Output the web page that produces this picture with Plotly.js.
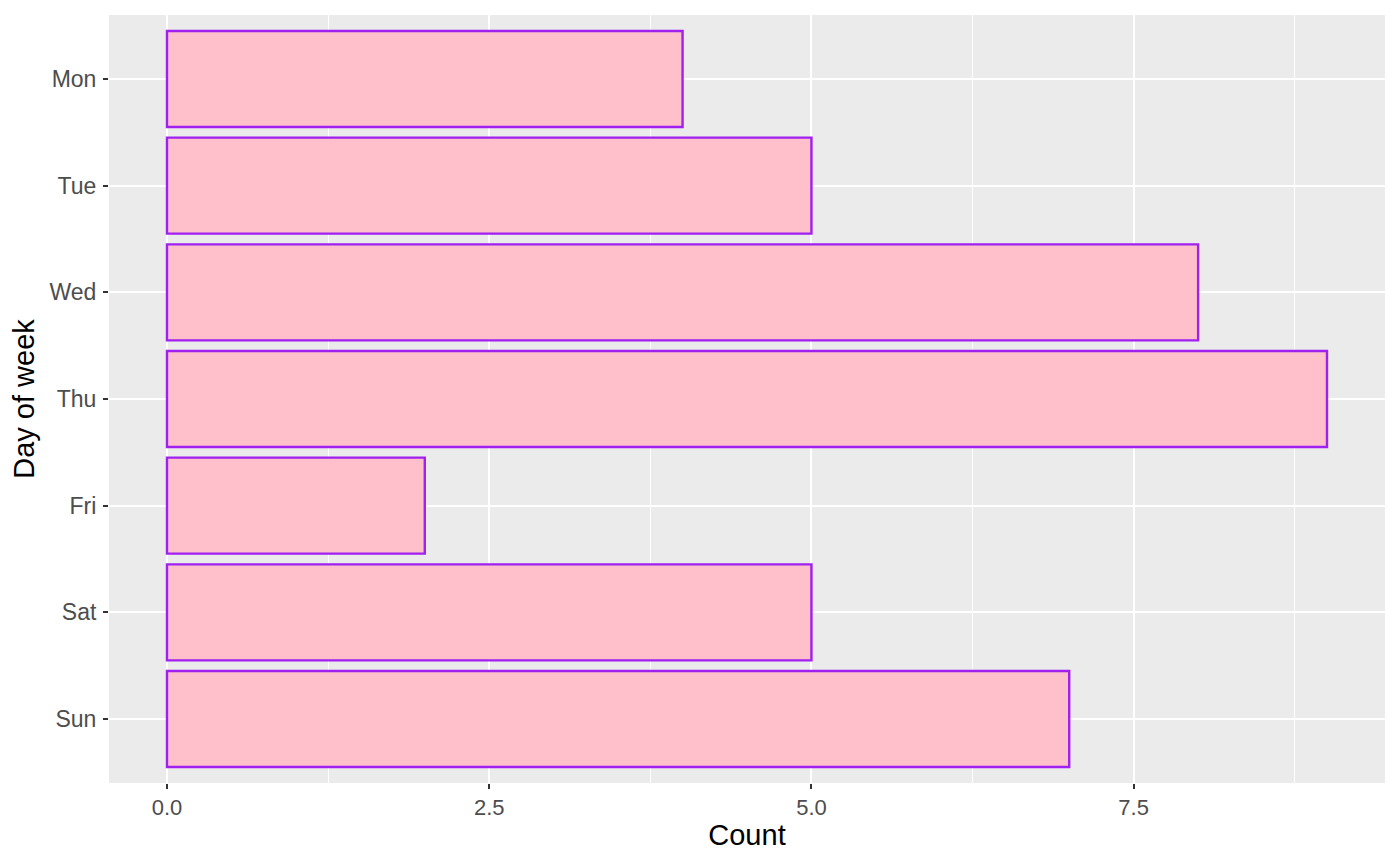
<!DOCTYPE html>
<html>
<head>
<meta charset="utf-8">
<script src="https://cdn.plot.ly/plotly-3.0.1.min.js"></script>
<style>html,body{margin:0;padding:0;background:#fff;}#chart{width:1400px;height:866px;}</style>
</head>
<body>
<div id="chart"></div>
<script>
const days = ["Mon", "Tue", "Wed", "Thu", "Fri", "Sat", "Sun"];
const counts = [4, 5, 8, 9, 2, 5, 7];
const xTickVals = [0, 2.5, 5, 7.5];
const xTickText = ["0.0", "2.5", "5.0", "7.5"];

const trace = {
  type: "bar",
  orientation: "h",
  y: days,
  x: counts,
  width: 0.9,
  marker: { color: "#FFC0CB", line: { color: "#A020F0", width: 2.4 } },
  hoverinfo: "x+y"
};

const layout = {
  width: 1400,
  height: 866,
  margin: { l: 109, r: 15, t: 15, b: 83 },
  paper_bgcolor: "#ffffff",
  plot_bgcolor: "#EBEBEB",
  showlegend: false,
  bargap: 0.1,
  font: { family: "Liberation Sans, Arial, sans-serif" },
  xaxis: {
    range: [-0.45, 9.45],
    tickmode: "array",
    tickvals: xTickVals,
    ticktext: xTickText,
    ticks: "outside",
    ticklen: 5,
    tickwidth: 2,
    tickcolor: "#333333",
    tickfont: { size: 22, color: "#4D4D4D" },
    showgrid: true,
    gridcolor: "#FFFFFF",
    gridwidth: 2,
    minor: { tick0: 1.25, dtick: 2.5, showgrid: true, gridcolor: "#FFFFFF", gridwidth: 1, ticks: "" },
    zeroline: false,
    showline: false,
    automargin: false,
    title: { text: "Count", font: { size: 29, color: "#000000" }, standoff: 5 }
  },
  yaxis: {
    type: "category",
    categoryorder: "array",
    categoryarray: days,
    autorange: false,
    range: [6.6, -0.6],
    ticks: "outside",
    ticklen: 5,
    tickwidth: 2,
    tickcolor: "#333333",
    tickfont: { size: 23, color: "#4D4D4D" },
    ticklabelstandoff: 2,
    showgrid: true,
    gridcolor: "#FFFFFF",
    gridwidth: 2,
    zeroline: false,
    showline: false,
    automargin: false,
    title: { text: "Day of week", font: { size: 29, color: "#000000" }, standoff: 6 }
  }
};

Plotly.newPlot("chart", [trace], layout, { displayModeBar: false, staticPlot: true });
</script>
</body>
</html>
